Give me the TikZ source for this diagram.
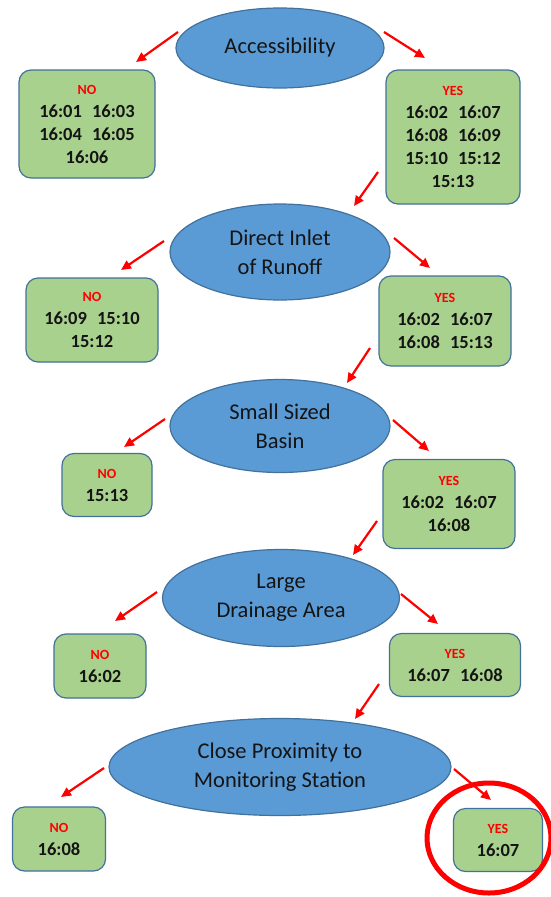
\documentclass[tikz,border=0pt]{standalone}
\usepackage{fontspec}
\setmainfont{Carlito}
\usetikzlibrary{shapes.geometric,arrows.meta}
\definecolor{ellfill}{HTML}{5B9BD5}
\definecolor{ellline}{HTML}{41719C}
\definecolor{boxfill}{HTML}{A9D18E}
\definecolor{boxline}{HTML}{41719C}
\definecolor{txt}{HTML}{141414}
\tikzset{
 crit/.style={ellipse, draw=ellline, line width=1.2pt, fill=ellfill, inner sep=0pt, align=center, text=txt, font=\fontsize{22.5}{29}\selectfont},
 res/.style={rectangle, rounded corners=12pt, draw=boxline, line width=1.2pt, fill=boxfill, inner sep=0pt, align=center, text=txt, font=\bfseries\fontsize{18.5}{23}\selectfont},
 arr/.style={draw=red, line width=2.2pt, -{Triangle[length=10pt,width=9pt]}},
 hilite/.style={ellipse, draw=red, line width=5pt, inner sep=0pt},
}
\newcommand{\reslab}[1]{{\fontsize{14}{14}\selectfont\textcolor{red}{#1}}}
\newcommand{\pairgap}{\hspace{0.55em}}
\begin{document}
\begin{tikzpicture}[x=1pt,y=-1pt]
\fill[white] (0,0) rectangle (550,897);
\useasboundingbox (0,0) rectangle (550,897);
% criteria
\node[crit, minimum width=208pt, minimum height=80pt] (acc) at (280,48) {Accessibility};
\node[crit, minimum width=220pt, minimum height=96pt] (dir) at (280,252) {Direct Inlet\\of Runoff};
\node[crit, minimum width=220pt, minimum height=93pt] (small) at (280,426) {Small Sized\\Basin};
\node[crit, minimum width=237pt, minimum height=97pt] (large) at (281,598) {Large\\Drainage Area};
\node[crit, minimum width=342pt, minimum height=97pt] (close) at (280,767) {Close Proximity to\\Monitoring Station};
% results
\node[res, minimum width=136pt, minimum height=108pt] (no1) at (87,124) {\reslab{NO}\\16:01\pairgap16:03\\16:04\pairgap16:05\\16:06};
\node[res, minimum width=134pt, minimum height=134pt] (yes1) at (453,137) {\reslab{YES}\\16:02\pairgap16:07\\16:08\pairgap16:09\\15:10\pairgap15:12\\15:13};
\node[res, minimum width=132pt, minimum height=84pt] (no2) at (92,320) {\reslab{NO}\\16:09\pairgap15:10\\15:12};
\node[res, minimum width=132pt, minimum height=90pt] (yes2) at (445,321) {\reslab{YES}\\16:02\pairgap16:07\\16:08\pairgap15:13};
\node[res, minimum width=90pt, minimum height=63pt] (no3) at (107,485) {\reslab{NO}\\15:13};
\node[res, minimum width=132pt, minimum height=89pt] (yes3) at (449,504) {\reslab{YES}\\16:02\pairgap16:07\\16:08};
\node[res, minimum width=92pt, minimum height=64pt] (no4) at (100,666) {\reslab{NO}\\16:02};
\node[res, minimum width=131pt, minimum height=63pt] (yes4) at (455,665) {\reslab{YES}\\16:07\pairgap16:08};
\node[res, minimum width=93pt, minimum height=64pt] (no5) at (59,839) {\reslab{NO}\\16:08};
\node[res, minimum width=89pt, minimum height=63pt] (yes5) at (498,840) {\reslab{YES}\\16:07};
% highlight
\node[hilite, minimum width=124pt, minimum height=110pt] (ring) at (489,838) {};
% arrow end points
\coordinate (a1s) at (178,32); \coordinate (a1e) at (136,62);
\coordinate (a2s) at (384,32); \coordinate (a2e) at (425,58);
\coordinate (a3s) at (378,172); \coordinate (a3e) at (354,206);
\coordinate (b1s) at (164,241); \coordinate (b1e) at (121,270);
\coordinate (b2s) at (394,238); \coordinate (b2e) at (430,268);
\coordinate (b3s) at (370,348); \coordinate (b3e) at (347,383);
\coordinate (c1s) at (165,419); \coordinate (c1e) at (124,447);
\coordinate (c2s) at (393,420); \coordinate (c2e) at (429,451);
\coordinate (c3s) at (377,521); \coordinate (c3e) at (353,555);
\coordinate (d1s) at (157,592); \coordinate (d1e) at (115,621);
\coordinate (d2s) at (401,594); \coordinate (d2e) at (438,624);
\coordinate (d3s) at (379,684); \coordinate (d3e) at (355,719);
\coordinate (e1s) at (104,768); \coordinate (e1e) at (61,797);
\coordinate (e2s) at (454,769); \coordinate (e2e) at (491,800);
\foreach \p in {a1,a2,a3,b1,b2,b3,c1,c2,c3,d1,d2,d3,e1,e2}{
  \draw[arr] (\p s) -- (\p e);
}
\end{tikzpicture}
\end{document}
